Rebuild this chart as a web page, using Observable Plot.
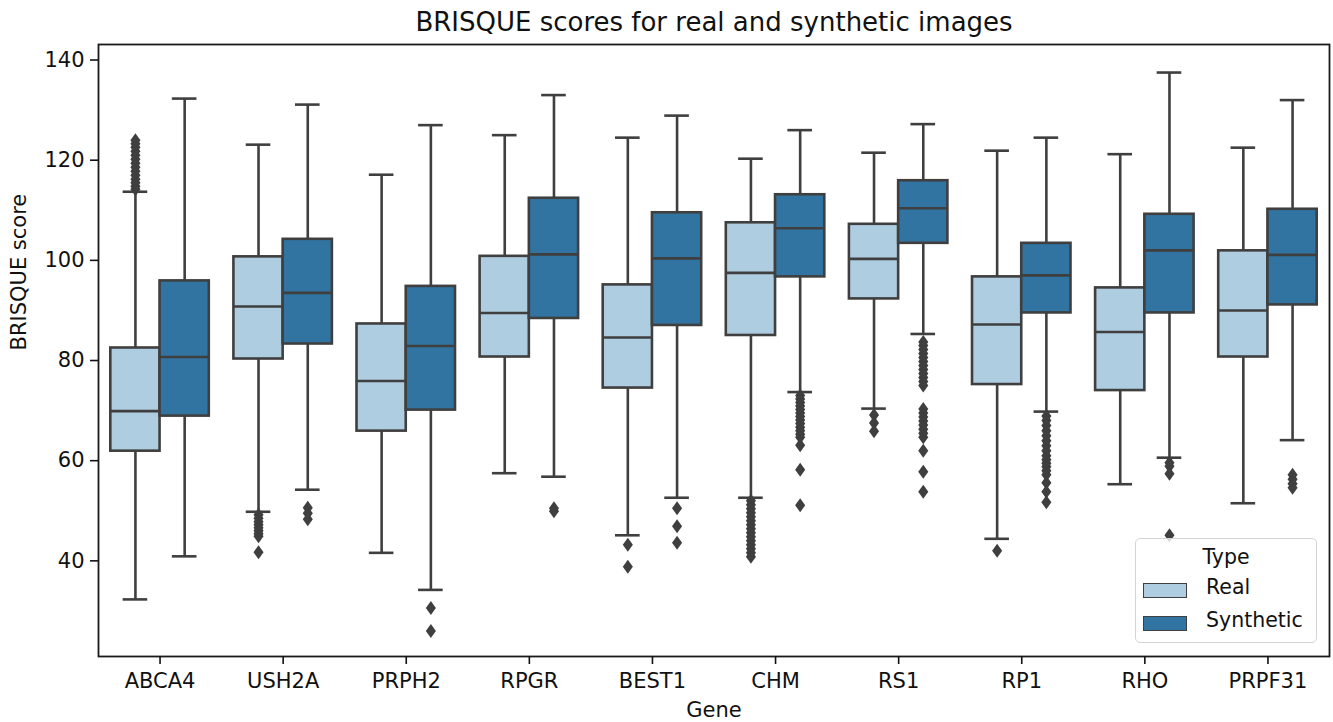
<!DOCTYPE html>
<html>
<head>
<meta charset="utf-8">
<script src="https://cdn.jsdelivr.net/npm/d3@7"></script>
<script src="https://cdn.jsdelivr.net/npm/@observablehq/plot@0.6"></script>
<style>
  body { margin: 0; background: #fff; font-family: "DejaVu Sans", sans-serif; }
  #wrap { position: relative; width: 1333px; height: 722px; }
  #legend { position: absolute; left: 1135px; top: 538px; width: 182px; height: 105px;
    background: rgba(255,255,255,0.8); border: 1px solid #d4d4d4; border-radius: 5px;
    font-family: "DejaVu Sans", sans-serif; font-size: 20.5px; color: #111; box-sizing: border-box; }
  #legend .title { position: absolute; left: 0; width: 100%; top: 6px; text-align: center; }
  #legend .sw { position: absolute; left: 7px; width: 44px; height: 15px; border: 1.5px solid #3f3f3f; box-sizing: border-box; }
  #legend .lab { position: absolute; left: 70px; }
</style>
</head>
<body>
<div id="wrap"><div id="chart"></div><div id="legend"></div></div>
<script>
const genes = ["ABCA4","USH2A","PRPH2","RPGR","BEST1","CHM","RS1","RP1","RHO","PRPF31"];
const types = ["Real","Synthetic"];
const yTicks = [40, 60, 80, 100, 120, 140];

// Real images: whisker low, Q1, median, Q3, whisker high
const realLo  = [32.3, 49.8, 41.6, 57.5, 45.1, 52.6, 70.4, 44.4, 55.3, 51.5];
const realQ1  = [61.9, 80.3, 65.9, 80.7, 74.5, 85.0, 92.3, 75.2, 74.0, 80.7];
const realMed = [69.9, 90.8, 75.9, 89.5, 84.6, 97.5, 100.3, 87.2, 85.7, 90.0];
const realQ3  = [82.5, 100.7, 87.3, 100.8, 95.1, 107.5, 107.2, 96.7, 94.5, 101.9];
const realHi  = [113.7, 123.1, 117.1, 125.0, 124.5, 120.3, 121.5, 121.9, 121.2, 122.5];

// Synthetic images
const synLo  = [40.9, 54.2, 34.2, 56.8, 52.6, 73.7, 85.3, 69.8, 60.6, 64.1];
const synQ1  = [68.9, 83.3, 70.1, 88.4, 87.0, 96.7, 103.4, 89.5, 89.5, 91.1];
const synMed = [80.7, 93.5, 82.9, 101.2, 100.4, 106.4, 110.4, 97.0, 102.0, 101.1];
const synQ3  = [95.9, 104.2, 94.8, 112.4, 109.5, 113.1, 115.9, 103.4, 109.2, 110.2];
const synHi  = [132.3, 131.1, 127.0, 133.0, 128.9, 126.0, 127.2, 124.5, 137.5, 132.0];

// Outliers (per gene)
const realOut = [
  [114.2, 114.8, 115.5, 116.2, 117.0, 117.8, 118.6, 119.4, 120.2, 121.0, 121.8, 122.6, 123.3, 124.0],
  [49.2, 48.5, 47.8, 47.2, 46.6, 46.0, 45.4, 44.9, 41.7],
  [],
  [],
  [43.2, 38.8],
  [52.0, 51.2, 50.4, 49.6, 48.8, 48.0, 47.2, 46.4, 45.6, 44.8, 44.0, 43.2, 42.4, 41.6, 40.8],
  [69.1, 67.5, 65.9],
  [42.0],
  [],
  []
];
const synOut = [
  [],
  [50.6, 49.5, 48.3],
  [30.6, 26.0],
  [50.5, 49.9],
  [50.5, 46.9, 43.6],
  [73.0, 72.3, 71.6, 70.9, 70.2, 69.5, 68.8, 68.1, 67.4, 66.7, 66.0, 65.3, 64.7, 63.1, 58.2, 51.1],
  [83.7, 83.0, 82.2, 81.4, 80.6, 79.8, 79.0, 78.2, 77.4, 76.6, 75.8, 75.0,
   70.3, 69.5, 68.7, 67.9, 67.1, 66.3, 65.5, 64.7, 62.0, 57.8, 53.8],
  [68.9, 68.0, 67.0, 66.0, 65.0, 64.0, 63.0, 62.0, 61.0, 60.2, 59.5, 58.8, 58.0, 57.2, 55.6, 53.8, 51.7],
  [59.6, 58.9, 57.4, 45.1],
  [57.2, 56.3, 55.4, 54.6]
];

const colors = ["#afcde0", "#3274a1"];
const edge = "#3f3f3f";
const lw = 2.6;

// matplotlib-like "d" marker: diamond a bit narrower than tall
const thinDiamond = {
  draw(context, size) {
    const h = Math.sqrt(size / Math.PI);
    const w = h * 0.72;
    context.moveTo(0, -h);
    context.lineTo(w, 0);
    context.lineTo(0, h);
    context.lineTo(-w, 0);
    context.closePath();
  }
};

const stats = [
  {lo: realLo, q1: realQ1, med: realMed, q3: realQ3, hi: realHi, out: realOut},
  {lo: synLo, q1: synQ1, med: synMed, q3: synQ3, hi: synHi, out: synOut}
];

const boxes = [];
const outliers = [];
genes.forEach((g, i) => {
  types.forEach((t, k) => {
    const s = stats[k];
    const x1 = i - 0.4 + k * 0.4, x2 = x1 + 0.4, xc = x1 + 0.2;
    boxes.push({gene: g, type: t, x1, x2, xc, lo: s.lo[i], q1: s.q1[i], med: s.med[i], q3: s.q3[i], hi: s.hi[i]});
    s.out[i].forEach(v => outliers.push({gene: g, type: t, xc, v}));
  });
});

const chart = Plot.plot({
  width: 1333,
  height: 722,
  marginTop: 44,
  marginBottom: 66,
  marginLeft: 98,
  marginRight: 4,
  style: {fontFamily: "DejaVu Sans, sans-serif", fontSize: "21px", color: "#111", background: "#fff"},
  x: {domain: [-0.5, 9.5]},
  y: {domain: [20.9, 143.1]},
  color: {domain: types, range: colors},
  marks: [
    Plot.ruleX(boxes, {x: "xc", y1: "lo", y2: "hi", stroke: edge, strokeWidth: lw}),
    Plot.rect(boxes, {x1: "x1", x2: "x2", y1: "q1", y2: "q3", fill: "type", stroke: edge, strokeWidth: lw}),
    Plot.ruleY(boxes, {y: "med", x1: "x1", x2: "x2", stroke: edge, strokeWidth: lw}),
    Plot.ruleY(boxes, {y: "lo", x1: d => d.xc - 0.1, x2: d => d.xc + 0.1, stroke: edge, strokeWidth: lw}),
    Plot.ruleY(boxes, {y: "hi", x1: d => d.xc - 0.1, x2: d => d.xc + 0.1, stroke: edge, strokeWidth: lw}),
    Plot.dot(outliers, {x: "xc", y: "v", symbol: thinDiamond, r: 7, fill: edge, stroke: "none"}),
    Plot.frame({stroke: "#1a1a1a", strokeWidth: 1.8}),
    Plot.axisY({ticks: yTicks, tickSize: 8, tickPadding: 6, label: null, strokeWidth: 1.6, fontSize: 21}),
    Plot.axisX({ticks: d3.range(genes.length), tickFormat: i => genes[i], tickSize: 8, tickPadding: 9, label: null, strokeWidth: 1.6, fontSize: 21}),
    Plot.text(["BRISQUE scores for real and synthetic images"], {frameAnchor: "top", dy: -22, fontSize: 26, fill: "#111", lineAnchor: "middle"}),
    Plot.text(["Gene"], {frameAnchor: "bottom", dy: 54, fontSize: 21, fill: "#111", lineAnchor: "middle"}),
    Plot.text(["BRISQUE score"], {frameAnchor: "left", dx: -79, rotate: -90, fontSize: 21, fill: "#111", lineAnchor: "middle"})
  ]
});
document.getElementById("chart").appendChild(chart);

// Legend
const legend = document.getElementById("legend");
legend.innerHTML = `<div class="title">Type</div>` +
  types.map((t, k) => `<div class="sw" style="top:${44 + k * 33}px;background:${colors[k]}"></div>` +
    `<div class="lab" style="top:${36 + k * 33}px">${t}</div>`).join("");
</script>
</body>
</html>
